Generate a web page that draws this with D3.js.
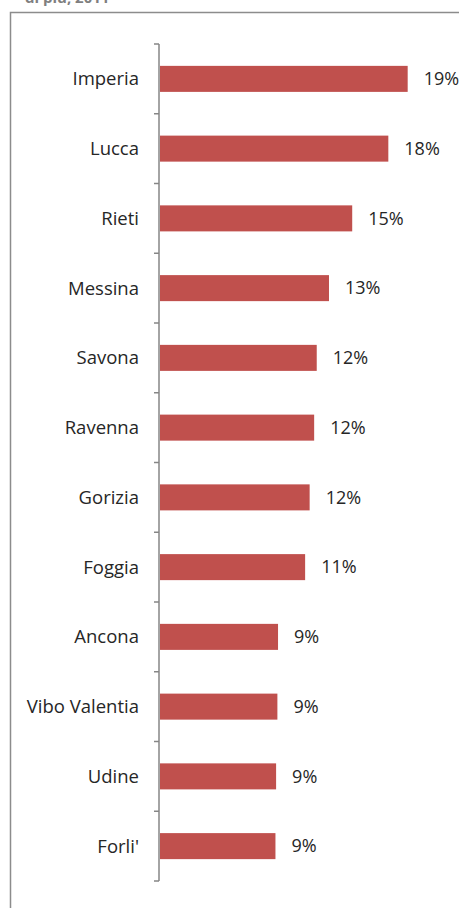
<!DOCTYPE html>
<html>
<head>
<meta charset="utf-8">
<script src="https://cdn.jsdelivr.net/npm/d3@7"></script>
<style>
  body { margin: 0; background: #fff; }
  svg { display: block; }
</style>
</head>
<body>
<div id="canvas"></div>
<script>
"use strict";

/* Data: share per province (%) */
let provinces = ["Imperia", "Lucca", "Rieti", "Messina", "Savona", "Ravenna",
  "Gorizia", "Foggia", "Ancona", "Vibo Valentia", "Udine", "Forli'"];
let shares = [19.2, 17.7, 14.9, 13.1, 12.15, 11.95, 11.6, 11.25, 9.15, 9.1, 9.0, 8.95];

let svgWidth = 459;
let svgHeight = 908;

let svg = d3.select("#canvas")
  .append("svg")
  .attr("width", svgWidth)
  .attr("height", svgHeight);

// title, mostly cut off at the top of the picture
svg.append("text")
  .attr("x", 25)
  .attr("y", 3)
  .attr("font-family", "Open Sans, sans-serif")
  .attr("font-weight", "bold")
  .attr("font-size", 15)
  .attr("fill", "#7f7f7f")
  .text("di più, 2011");

// chart frame (runs off the right and bottom edges)
svg.append("rect")
  .attr("x", 10.5)
  .attr("y", 12.5)
  .attr("width", 470)
  .attr("height", 920)
  .attr("fill", "none")
  .attr("stroke", "#8c8c8c")
  .attr("stroke-width", 1.5);

/* Scales */
let yScale = d3.scaleBand()
  .domain(provinces)
  .range([44, 881])
  .paddingInner(0.627)
  .paddingOuter(0.3135);

let xScale = d3.scaleLinear()
  .domain([0, 20])
  .range([160, 418]);

/* Bars */
svg.selectAll("rect.bar")
  .data(provinces)
  .join("rect")
  .attr("class", "bar")
  .attr("x", xScale(0))
  .attr("y", d => yScale(d))
  .attr("width", (d, i) => xScale(shares[i]) - xScale(0))
  .attr("height", yScale.bandwidth())
  .attr("fill", "#c0504d");

/* Value labels */
svg.selectAll("text.value")
  .data(provinces)
  .join("text")
  .attr("class", "value")
  .attr("x", (d, i) => xScale(shares[i]) + 16)
  .attr("y", d => yScale(d) + yScale.bandwidth() / 2)
  .attr("dy", "0.35em")
  .attr("font-family", "Open Sans, sans-serif")
  .attr("font-size", 18)
  .attr("fill", "#262626")
  .text((d, i) => Math.round(shares[i]) + "%");

/* Category axis: ticks on band boundaries */
let bounds = provinces.map(d => yScale(d) - yScale.step() * yScale.paddingInner() / 2);
bounds.push(881);

let axis = svg.append("g").attr("stroke", "#868686").attr("stroke-width", 1.5);
axis.append("line")
  .attr("x1", 159).attr("x2", 159)
  .attr("y1", 44).attr("y2", 881);
axis.selectAll("line.tick")
  .data(bounds)
  .join("line")
  .attr("class", "tick")
  .attr("x1", 154).attr("x2", 159)
  .attr("y1", d => d).attr("y2", d => d);

svg.selectAll("text.cat")
  .data(provinces)
  .join("text")
  .attr("class", "cat")
  .attr("x", 139)
  .attr("y", d => yScale(d) + yScale.bandwidth() / 2)
  .attr("dy", "0.35em")
  .attr("text-anchor", "end")
  .attr("font-family", "Open Sans, sans-serif")
  .attr("font-size", 18.5)
  .attr("fill", "#262626")
  .text(d => d);
</script>
</body>
</html>
